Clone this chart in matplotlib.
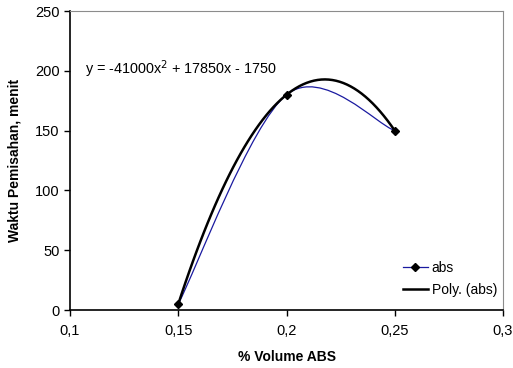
import numpy as np
import matplotlib
matplotlib.use("Agg")
import matplotlib.pyplot as plt
from matplotlib.path import Path
from matplotlib.patches import PathPatch
from matplotlib.lines import Line2D
from matplotlib.ticker import FuncFormatter

# data
vol_abs = [0.15, 0.20, 0.25]
waktu = [5, 180, 150]
x_ticks = [0.1, 0.15, 0.2, 0.25, 0.3]
y_ticks = [0, 50, 100, 150, 200, 250]
eq_text = "y = -41000x$^2$ + 17850x - 1750"

plt.rcParams['font.family'] = ['Liberation Sans', 'DejaVu Sans']

fig = plt.figure(figsize=(5.13, 3.68), dpi=100)
ax = fig.add_axes([0.1365, 0.1576, 0.844, 0.8124])


def smooth_path(xs, ys):
    """excel-like smoothed line (catmull-rom -> bezier)"""
    pts = np.column_stack([xs, ys]).astype(float)
    n = len(pts)
    verts = [pts[0]]
    codes = [Path.MOVETO]
    for i in range(n - 1):
        p_prev = pts[i - 1] if i > 0 else pts[i]
        p_next2 = pts[i + 2] if i + 2 < n else pts[i + 1]
        c1 = pts[i] + (pts[i + 1] - p_prev) / 6
        c2 = pts[i + 1] - (p_next2 - pts[i]) / 6
        verts += [c1, c2, pts[i + 1]]
        codes += [Path.CURVE4] * 3
    return Path(verts, codes)


# smoothed data line
ax.add_patch(PathPatch(smooth_path(vol_abs, waktu), facecolor='none',
                       edgecolor='#1a1aa0', lw=0.9, zorder=3))
ax.plot(vol_abs, waktu, ls='none', marker='D', ms=4, color='black', zorder=5)

# polynomial trendline (order 2)
coef = np.polyfit(vol_abs, waktu, 2)
xx = np.linspace(min(vol_abs), max(vol_abs), 60)
ax.plot(xx, np.polyval(coef, xx), color='black', lw=1.8, zorder=4)

ax.text(0.1068, 201, eq_text, fontsize=10.4, va='center', ha='left')

ax.set_xlim(0.1, 0.3)
ax.set_ylim(0, 250)
ax.set_xticks(x_ticks)
ax.set_yticks(y_ticks)
ax.xaxis.set_major_formatter(FuncFormatter(lambda v, p: ('%g' % v).replace('.', ',')))
ax.tick_params(direction='out', length=4, width=1, labelsize=10.5, color='black')
ax.tick_params(axis='x', pad=6)

for s in ['top', 'right']:
    ax.spines[s].set_color('#8c8c8c')
for s in ['left', 'bottom']:
    ax.spines[s].set_color('black')
    ax.spines[s].set_linewidth(1.2)

ax.set_xlabel("% Volume ABS", fontweight='bold', fontsize=10, labelpad=9)
ax.set_ylabel("Waktu Pemisahan, menit", fontweight='bold', fontsize=10, labelpad=10)

handles = [
    Line2D([], [], color='#1a1aa0', lw=0.9, marker='D', ms=4,
           markerfacecolor='black', markeredgecolor='black'),
    Line2D([], [], color='black', lw=1.8),
]
ax.legend(handles, ['abs', 'Poly. (abs)'], loc='lower right',
          bbox_to_anchor=(1.009, 0.012), frameon=False, fontsize=10,
          handlelength=1.8, handletextpad=0.3, labelspacing=0.55, borderpad=0.2)

fig.savefig("out.png", dpi=100)
